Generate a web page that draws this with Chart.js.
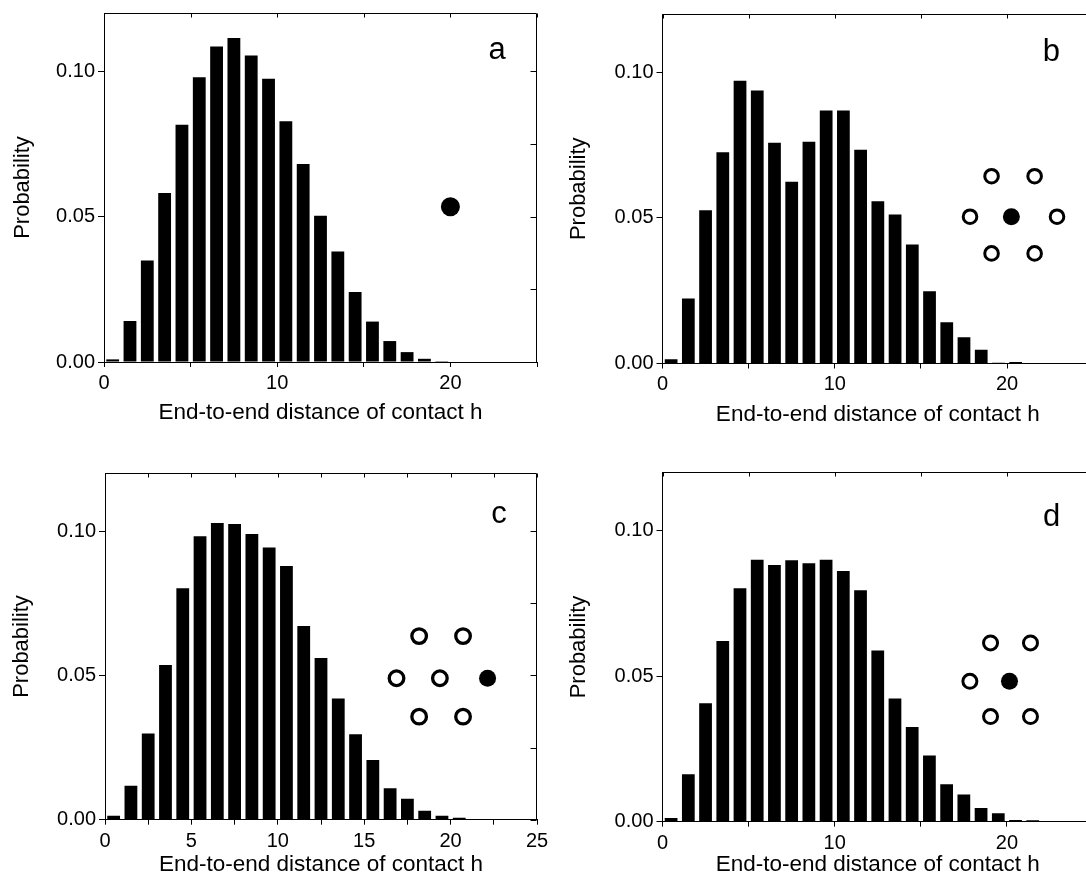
<!DOCTYPE html>
<html>
<head>
<meta charset="utf-8">
<script src="https://cdn.jsdelivr.net/npm/chart.js@4/dist/chart.umd.min.js"></script>
<style>
html,body{margin:0;padding:0;background:#fff;width:1086px;height:888px;overflow:hidden;position:relative;}
.panel{position:absolute;}
</style>
</head>
<body>
<div class="panel" style="left:0;top:0;width:560px;height:444px"><canvas id="ca"></canvas></div>
<div class="panel" style="left:543px;top:0;width:560px;height:444px"><canvas id="cb"></canvas></div>
<div class="panel" style="left:0;top:444px;width:560px;height:444px"><canvas id="cc"></canvas></div>
<div class="panel" style="left:543px;top:444px;width:560px;height:444px"><canvas id="cd"></canvas></div>
<script>
// ---------- data ----------
const binCenters = [0.5,1.5,2.5,3.5,4.5,5.5,6.5,7.5,8.5,9.5,10.5,11.5,12.5,13.5,14.5,15.5,16.5,17.5,18.5,19.5,20.5,21.5,22.5,23.5,24.5];
const probA = [0.0009,0.0141,0.0349,0.0581,0.0816,0.0979,0.1085,0.1114,0.1054,0.0974,0.0828,0.0681,0.0503,0.0380,0.0241,0.0139,0.0072,0.0034,0.0011,0.0003,0,0,0,0,0];
const probB = [0.0015,0.0223,0.0526,0.0725,0.0971,0.0937,0.0758,0.0624,0.0761,0.0869,0.0869,0.0734,0.0557,0.0512,0.0409,0.0248,0.0142,0.0090,0.0047,0.0003,0.0005,0,0,0,0];
const probC = [0.0014,0.0118,0.0299,0.0536,0.0802,0.0982,0.1028,0.1024,0.0990,0.0943,0.0879,0.0671,0.0560,0.0420,0.0296,0.0207,0.0109,0.0073,0.0031,0.0014,0.0007,0.0002,0,0,0];
const probD = [0.0013,0.0163,0.0407,0.0621,0.0802,0.0900,0.0882,0.0898,0.0888,0.0900,0.0861,0.0795,0.0588,0.0423,0.0325,0.0227,0.0129,0.0093,0.0047,0.0029,0.0006,0.0005,0,0,0];

// inset lattice markers (data coordinates)
const openAx = [], openAy = [];
const fillAx = [20.0], fillAy = [0.0534];
const openBx = [19.1,21.6,17.85,22.9,19.1,21.6], openBy = [0.0643,0.0643,0.0504,0.0504,0.0378,0.0378];
const fillBx = [20.25], fillBy = [0.0504];
const openCx = [18.18,20.72,16.87,19.38,18.18,20.72], openCy = [0.0636,0.0636,0.0490,0.0490,0.0357,0.0357];
const fillCx = [22.14], fillCy = [0.0490];
const openDx = [19.05,21.37,17.85,19.05,21.37], openDy = [0.0614,0.0614,0.0482,0.0361,0.0361];
const fillDx = [20.15], fillDy = [0.0482];

// panel letters
const panelLetters = ['a','b','c','d'];
const letterX = [22.7, 22.57, 22.8, 22.6];
const letterY = [0.107, 0.1067, 0.1058, 0.1045];

// tick labels
const xLabelsABD = [0, 10, 20];
const xLabelsC = [0, 5, 10, 15, 20, 25];
const yLabels = ['0.00', '0.05', '0.10'];
const xTitle = 'End-to-end distance of contact h';
const yTitle = 'Probability';

// ---------- rendering ----------
Chart.defaults.font.family = "'Liberation Sans', Arial, Helvetica, sans-serif";
Chart.defaults.color = '#000';

const framePlugin = {
  id: 'frame',
  afterDatasetsDraw(chart, args, o) {
    const {ctx, chartArea: ca, scales: {x, y}} = chart;
    ctx.save();
    ctx.strokeStyle = '#000';
    ctx.lineWidth = 1;
    const top = Math.round(ca.top) + 0.5, right = Math.round(ca.right) - 0.5;
    ctx.beginPath();
    ctx.moveTo(ca.left, top); ctx.lineTo(right, top); ctx.lineTo(right, ca.bottom);
    ctx.stroke();
    ctx.beginPath();
    for (let v = 0; v <= 25 + 1e-9; v += o.xStep) {
      const px = Math.round(x.getPixelForValue(v)) + 0.5;
      ctx.moveTo(px, top); ctx.lineTo(px, top + o.topLen);
    }
    for (let v = 0; v <= 0.1 + 1e-9; v += 0.025) {
      const py = Math.round(y.getPixelForValue(v)) + 0.5;
      ctx.moveTo(right, py); ctx.lineTo(right - o.rightLen, py);
    }
    ctx.stroke();
    ctx.fillStyle = '#000';
    ctx.font = "31px 'Liberation Sans', Arial, sans-serif";
    ctx.textAlign = 'center';
    ctx.textBaseline = 'middle';
    ctx.fillText(o.letter, x.getPixelForValue(o.lx), y.getPixelForValue(o.ly));
    ctx.restore();
  }
};

function toPts(xs, ys) { return xs.map((v, i) => ({x: v, y: ys[i]})); }

function makePanel(id, g) {
  const ctx = document.getElementById(id);
  return new Chart(ctx, {
    type: 'bar',
    data: {
      datasets: [
        {
          type: 'scatter', data: toPts(g.openX, g.openY),
          pointRadius: g.openR, pointBorderWidth: g.openBW, pointBackgroundColor: '#fff',
          pointBorderColor: '#000', pointHoverRadius: g.openR
        },
        {
          type: 'scatter', data: toPts(g.fillX, g.fillY),
          pointRadius: g.fillR, pointBorderWidth: 0, pointBackgroundColor: '#000',
          pointBorderColor: '#000', pointHoverRadius: g.fillR
        },
        {
          type: 'bar', data: binCenters.map((c, i) => ({x: c, y: g.prob[i]})),
          backgroundColor: '#000', borderWidth: 0,
          barPercentage: 0.74, categoryPercentage: 1.0
        }
      ]
    },
    options: {
      responsive: true, maintainAspectRatio: false, animation: false, events: [],
      layout: {padding: {left: 0, top: g.padTop, right: g.padRight, bottom: 0}},
      plugins: {
        legend: {display: false}, tooltip: {enabled: false},
        frame: {xStep: g.xStep, topLen: 4, rightLen: 6, letter: g.letter, lx: g.lx, ly: g.ly}
      },
      scales: {
        x: {
          type: 'linear', min: 0, max: 25, offset: false,
          grid: {display: true, drawOnChartArea: false, drawTicks: true, tickLength: 5, color: '#000', offset: false},
          border: {display: true, color: '#000', width: 1},
          ticks: {
            stepSize: g.xStep, autoSkip: false, maxRotation: 0, padding: g.xTickPad,
            font: {size: 20}, color: '#000',
            callback: (v) => g.xLabels.includes(v) ? String(v) : ''
          },
          title: {display: true, text: xTitle, font: {size: 22.5}, color: '#000', padding: {top: 0, bottom: g.xTitlePad}},
          afterFit: (s) => { s.height = g.xAxisH; s.paddingLeft = 0; s.paddingRight = 0; }
        },
        y: {
          type: 'linear', min: 0, max: 0.12,
          grid: {display: true, drawOnChartArea: false, drawTicks: true, tickLength: 6, color: '#000'},
          border: {display: true, color: '#000', width: 1},
          ticks: {
            stepSize: 0.05, includeBounds: false, padding: 3, font: {size: 20}, color: '#000',
            callback: (v) => { const i = Math.round(v / 0.05); return Math.abs(v - i * 0.05) < 1e-9 ? yLabels[i] : ''; }
          },
          title: {display: true, text: yTitle, font: {size: 22}, color: '#000', padding: {top: g.yTitlePad, bottom: 0}},
          afterFit: (s) => { s.width = g.yAxisW; s.paddingTop = 0; s.paddingBottom = 0; }
        }
      }
    },
    plugins: [framePlugin]
  });
}

makePanel('ca', {prob: probA, openX: openAx, openY: openAy, fillX: fillAx, fillY: fillAy,
  openR: 6.5, openBW: 3, fillR: 9.5, letter: panelLetters[0], lx: letterX[0], ly: letterY[0],
  xStep: 5, xLabels: xLabelsABD, padTop: 13, padRight: 23, yAxisW: 104, xAxisH: 82,
  xTickPad: 4, xTitlePad: 18, yTitlePad: 10});
makePanel('cb', {prob: probB, openX: openBx, openY: openBy, fillX: fillBx, fillY: fillBy,
  openR: 6.8, openBW: 3, fillR: 8.5, letter: panelLetters[1], lx: letterX[1], ly: letterY[1],
  xStep: 5, xLabels: xLabelsABD, padTop: 14, padRight: 6.5, yAxisW: 119.5, xAxisH: 80.5,
  xTickPad: 4, xTitlePad: 16, yTitlePad: 23});
makePanel('cc', {prob: probC, openX: openCx, openY: openCy, fillX: fillCx, fillY: fillCy,
  openR: 7.3, openBW: 3.3, fillR: 8.5, letter: panelLetters[2], lx: letterX[2], ly: letterY[2],
  xStep: 2.5, xLabels: xLabelsC, padTop: 29.3, padRight: 23, yAxisW: 105, xAxisH: 68.3,
  xTickPad: 5, xTitlePad: 10, yTitlePad: 9});
makePanel('cd', {prob: probD, openX: openDx, openY: openDy, fillX: fillDx, fillY: fillDy,
  openR: 7, openBW: 3, fillR: 8.5, letter: panelLetters[3], lx: letterX[3], ly: letterY[3],
  xStep: 5, xLabels: xLabelsABD, padTop: 28.3, padRight: 6.5, yAxisW: 119.5, xAxisH: 66.3,
  xTickPad: 5, xTitlePad: 10, yTitlePad: 23});
</script>
</body>
</html>
